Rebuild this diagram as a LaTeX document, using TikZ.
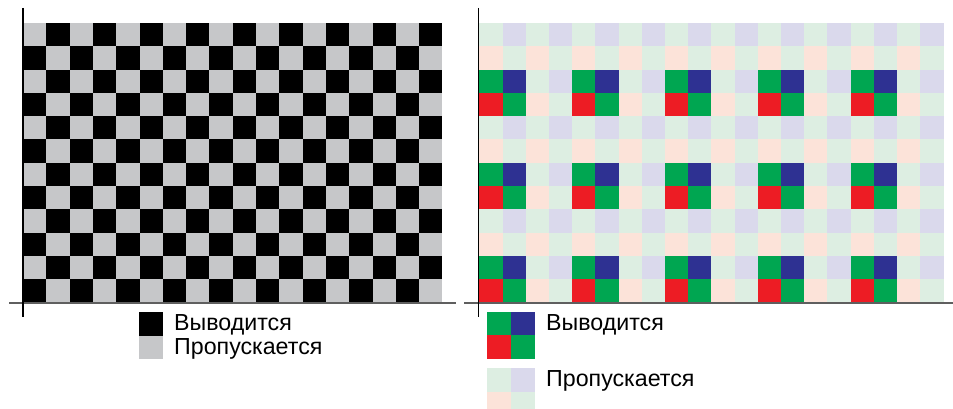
\documentclass[tikz,border=0pt]{standalone}
\usepackage{fontspec}
\setmainfont{Liberation Sans}
\definecolor{chkgray}{HTML}{C6C7C9}
\definecolor{outG}{HTML}{00A651}
\definecolor{outB}{HTML}{2E3192}
\definecolor{outR}{HTML}{ED1C24}
\definecolor{skG}{HTML}{DDEEE2}
\definecolor{skB}{HTML}{DAD9EC}
\definecolor{skR}{HTML}{FCE3D9}
\definecolor{axgray}{HTML}{5F5F5F}
\begin{document}
\begin{tikzpicture}[x=1pt,y=-1pt,
  lbl/.style={anchor=base west,inner sep=0pt,font=\fontsize{23.2}{28}\selectfont},
  vaxis/.style={black,line width=1.1pt},
  haxis/.style={axgray,line width=1.6pt}]
\useasboundingbox (0,0) rectangle (953,409);
% left checkerboard
\fill[chkgray] (23,23) rectangle (442.4,302.6);
\foreach \i in {0,...,17} \foreach \j in {0,...,11} {
  \pgfmathtruncatemacro\pp{mod(\i+\j,2)}
  \ifnum\pp=1
    \fill[black] (23+\i*23.3,23+\j*23.3) rectangle ++(23.3,23.3);
  \fi
}
% right Bayer grid
\foreach \i in {0,...,19} \foreach \j in {0,...,11} {
  \pgfmathtruncatemacro\rr{mod(\j,2)}
  \pgfmathtruncatemacro\cc{mod(\i,2)}
  \pgfmathtruncatemacro\oo{and(mod(\j,4)>=2, mod(\i,4)<2)}
  \ifnum\oo=1 \def\pre{out}\else\def\pre{sk}\fi
  \ifnum\rr=0
    \ifnum\cc=0 \def\cl{G}\else\def\cl{B}\fi
  \else
    \ifnum\cc=0 \def\cl{R}\else\def\cl{G}\fi
  \fi
  \edef\fc{\pre\cl}
  \fill[fill=\fc] (479.3+\i*23.2,23+\j*23.3) rectangle ++(23.5,23.6);
}
% axes
\draw[haxis] (9,302.8) -- (456,302.8);
\draw[vaxis] (23,8) -- (23,316.5);
\draw[haxis] (464,302.8) -- (953,302.8);
\draw[vaxis] (478.6,8) -- (478.6,316.5);
% left legend
\fill[black] (139,312) rectangle (163,335.7);
\fill[chkgray] (139,335.7) rectangle (163,358.7);
\node[lbl] (lout) at (174,330.7) {Выводится};
\node[lbl] (lskip) at (174,354.2) {Пропускается};
% right legend
\fill[outG] (487,312) rectangle (511,335.4);
\fill[outB] (511,312) rectangle (535,335.4);
\fill[outR] (487,335.4) rectangle (511,358.7);
\fill[outG] (511,335.4) rectangle (535,358.7);
\fill[skG] (487,368) rectangle (511,392);
\fill[skB] (511,368) rectangle (535,392);
\fill[skR] (487,392) rectangle (511,409);
\fill[skG] (511,392) rectangle (535,409);
\node[lbl] (rout) at (546,330.7) {Выводится};
\node[lbl] (rskip) at (546,386.7) {Пропускается};
\end{tikzpicture}
\end{document}
